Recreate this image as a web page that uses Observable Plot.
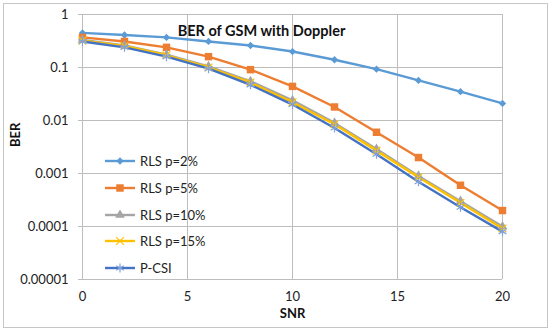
<!DOCTYPE html>
<html><head><meta charset="utf-8">
<script src="https://cdn.jsdelivr.net/npm/d3@7"></script>
<script src="https://cdn.jsdelivr.net/npm/@observablehq/plot@0.6"></script>
<style>
body{margin:0;background:#fff;}
#wrap{position:relative;width:550px;height:332px;font-family:Lato,sans-serif;}
#wrap svg{display:block;}
#border{position:absolute;left:3px;top:3px;width:543px;height:323px;border:1px solid #c6c6c6;pointer-events:none;}
#legend{position:absolute;left:105px;top:148px;}
.row{display:flex;align-items:center;height:26.65px;font-size:13px;color:#222;}
.row svg{margin-right:3px;}
</style></head><body><div id="wrap"><div id="border"></div><div id="legend"></div></div>
<script>
const snr = [0,2,4,6,8,10,12,14,16,18,20];
const berRLS2 = [0.45,0.41,0.37,0.31,0.26,0.20,0.14,0.093,0.057,0.035,0.021];
const berRLS5 = [0.37,0.31,0.24,0.16,0.091,0.044,0.018,0.006,0.002,0.0006,0.0002];
const berRLS10 = [0.33,0.26,0.175,0.105,0.055,0.024,0.009,0.0029,0.0009,0.0003,0.0001];
const berRLS15 = [0.32,0.255,0.17,0.10,0.052,0.022,0.0085,0.0027,0.00085,0.00028,0.000092];
const berPCSI = [0.31,0.24,0.16,0.095,0.047,0.020,0.0072,0.0023,0.0007,0.00023,0.00008];
const seriesNames = ["RLS p=2%","RLS p=5%","RLS p=10%","RLS p=15%","P-CSI"];
const seriesColors = ["#5B9BD5","#ED7D31","#A5A5A5","#FFC000","#4472C4"];
const seriesSymbols = ["diamond2","square","triangle","times","asterisk"];
const yTicks = [1,0.1,0.01,0.001,0.0001,0.00001];
const yTickLabels = ["1","0.1","0.01","0.001","0.0001","0.00001"];
const xTicks = [0,5,10,15,20];
const titleText = "BER of GSM with Doppler";

const seriesValues = [berRLS2, berRLS5, berRLS10, berRLS15, berPCSI];
const filled = s => ["diamond2","square","triangle"].includes(s);
const symR = {diamond2:3.3, square:4.2, triangle:3.6, times:3.6, asterisk:4.2};

const marks = [
  Plot.gridX(xTicks, {stroke:"#bdbdbd", strokeOpacity:1, strokeWidth:1}),
  Plot.gridY(yTicks, {stroke:"#bdbdbd", strokeOpacity:1, strokeWidth:1}),
  Plot.axisY(yTicks, {tickSize:4, tickPadding:10, stroke:"#bdbdbd", fontSize:13, fill:"#222",
    tickFormat: d => yTickLabels[yTicks.indexOf(d)], label:null}),
  Plot.axisX(xTicks, {tickSize:0, tickPadding:12, fontSize:13, fill:"#222", label:null})
];
seriesNames.forEach((name, i) => {
  const rows = snr.map((x, j) => ({x, y: seriesValues[i][j]}));
  marks.push(Plot.line(rows, {x:"x", y:"y", stroke: seriesColors[i], strokeWidth: 2.4}));
});
seriesNames.forEach((name, i) => {
  const rows = snr.map((x, j) => ({x, y: seriesValues[i][j]}));
  const s = seriesSymbols[i];
  marks.push(Plot.dot(rows, filled(s)
    ? {x:"x", y:"y", symbol: s, r: symR[s], fill: seriesColors[i], stroke:"none"}
    : {x:"x", y:"y", symbol: s, r: symR[s], fill:"none", stroke: i===4 ? "#7fa2dc" : seriesColors[i], strokeWidth:1.2}));
});
marks.push(
  Plot.text([titleText], {frameAnchor:"top-left", dx:179, dy:11, textAnchor:"middle", fontWeight:"bold", fontSize:14.5, fill:"#111"}),
  Plot.text(["SNR"], {frameAnchor:"bottom", dy:38, fontWeight:"bold", fontSize:13, fill:"#111"}),
  Plot.text(["BER"], {frameAnchor:"left", dx:-67, rotate:-90, fontWeight:"bold", fontSize:13, fill:"#111"})
);

const chart = Plot.plot({
  width:550, height:332,
  marginLeft:82, marginRight:48, marginTop:14, marginBottom:53,
  style:{fontFamily:"Lato, sans-serif", background:"#fff"},
  x:{domain:[0,20], axis:null},
  y:{type:"log", domain:[0.00001,1], axis:null},
  marks
});
document.getElementById("wrap").prepend(chart);

const legend = d3.select("#legend");
seriesNames.forEach((name, i) => {
  const row = legend.append("div").attr("class","row");
  const svg = row.append("svg").attr("width",32).attr("height",14);
  svg.append("line").attr("x1",0).attr("x2",30).attr("y1",7).attr("y2",7)
    .attr("stroke",seriesColors[i]).attr("stroke-width",2.4);
  const s = seriesSymbols[i];
  const symType = {diamond2: d3.symbolDiamond2, square: d3.symbolSquare, triangle: d3.symbolTriangle, times: d3.symbolTimes, asterisk: d3.symbolAsterisk}[s];
  const p = svg.append("path").attr("transform","translate(15,7)")
    .attr("d", d3.symbol(symType, Math.PI*symR[s]*symR[s])());
  if (filled(s)) p.attr("fill",seriesColors[i]);
  else p.attr("fill","none").attr("stroke", i===4 ? "#7fa2dc" : seriesColors[i]).attr("stroke-width",1.2);
  row.append("span").text(name);
});
</script></body></html>
